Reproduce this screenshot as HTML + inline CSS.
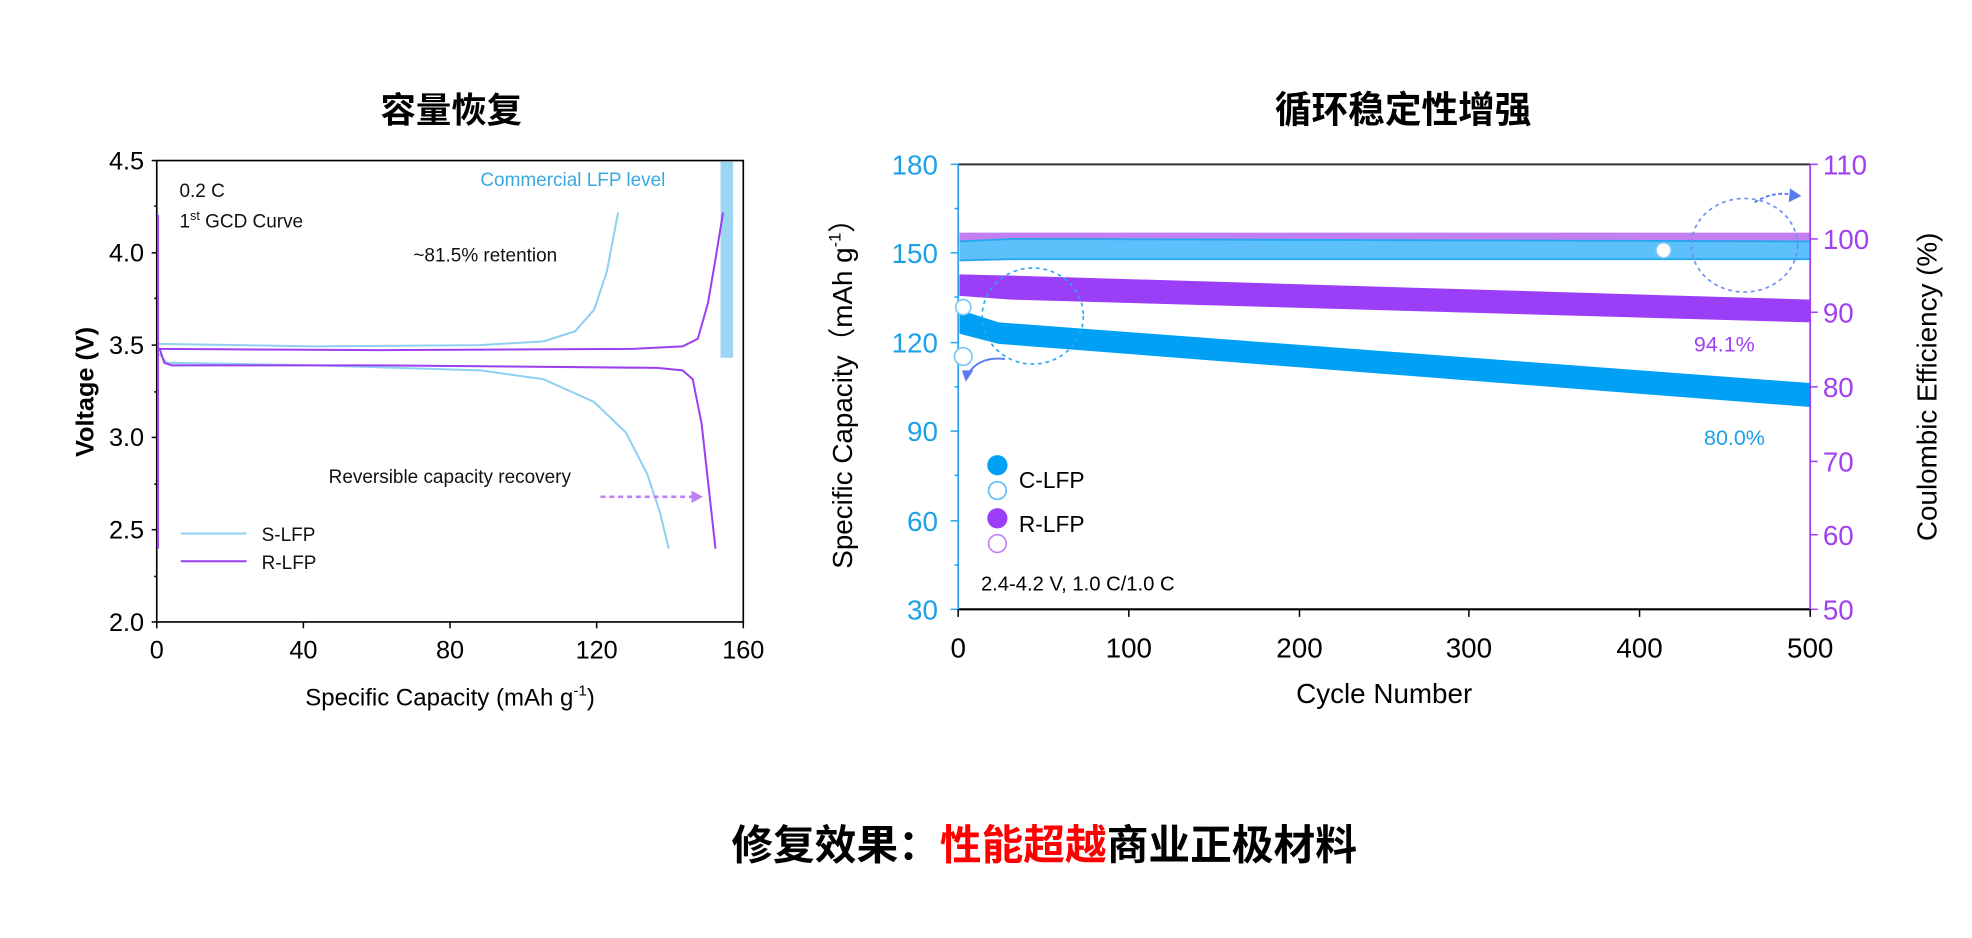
<!DOCTYPE html>
<html><head><meta charset="utf-8"><style>
html,body{margin:0;padding:0;background:#fff;}
svg{display:block;font-family:"Liberation Sans","Noto Sans CJK SC",sans-serif;}
</style></head><body>
<svg width="1972" height="938" viewBox="0 0 1560 742" xmlns="http://www.w3.org/2000/svg">
<rect width="1560" height="742" fill="#fff"/>
<!-- titles -->
<text x="357" y="97" font-size="28" font-weight="bold" text-anchor="middle" font-family="'Noto Sans CJK SC',sans-serif">容量恢复</text>
<text x="1110" y="97" font-size="29" font-weight="bold" text-anchor="middle" font-family="'Noto Sans CJK SC',sans-serif">循环稳定性增强</text>
<text x="826" y="680" font-size="33" font-weight="bold" text-anchor="middle" font-family="'Noto Sans CJK SC',sans-serif">修复效果：<tspan fill="#ff0000">性能超越</tspan>商业正极材料</text>

<!-- LEFT CHART -->
<rect x="570" y="128" width="10" height="155" fill="#9dd6f5"/>
<rect x="124" y="127" width="464" height="365" fill="none" stroke="#000" stroke-width="1.3"/>
<g stroke="#000" stroke-width="1.2">
<line x1="120" y1="127" x2="124" y2="127"/><line x1="120" y1="200" x2="124" y2="200"/><line x1="120" y1="273" x2="124" y2="273"/><line x1="120" y1="346" x2="124" y2="346"/><line x1="120" y1="419" x2="124" y2="419"/><line x1="120" y1="492" x2="124" y2="492"/>
<line x1="122" y1="163" x2="124" y2="163"/><line x1="122" y1="236" x2="124" y2="236"/><line x1="122" y1="310" x2="124" y2="310"/><line x1="122" y1="383" x2="124" y2="383"/><line x1="122" y1="456" x2="124" y2="456"/>
<line x1="124" y1="492" x2="124" y2="497"/><line x1="240" y1="492" x2="240" y2="497"/><line x1="356" y1="492" x2="356" y2="497"/><line x1="472" y1="492" x2="472" y2="497"/><line x1="588" y1="492" x2="588" y2="497"/>
</g>
<g font-size="20" text-anchor="end" fill="#000">
<text x="114" y="134">4.5</text><text x="114" y="207">4.0</text><text x="114" y="280">3.5</text><text x="114" y="353">3.0</text><text x="114" y="426">2.5</text><text x="114" y="499">2.0</text>
</g>
<g font-size="20" text-anchor="middle" fill="#000">
<text x="124" y="521">0</text><text x="240" y="521">40</text><text x="356" y="521">80</text><text x="472" y="521">120</text><text x="588" y="521">160</text>
</g>
<text x="356" y="558" font-size="19" text-anchor="middle">Specific Capacity (mAh g<tspan font-size="12" dy="-8">-1</tspan><tspan dy="8">)</tspan></text>
<text transform="translate(74,310) rotate(-90)" font-size="20" font-weight="bold" text-anchor="middle">Voltage (V)</text>
<!-- curves -->
<path d="M125,272 L250,274 L380,273 L430,270 L455,262 L470,245 L480,215 L489,168" fill="none" stroke="#8fd0f2" stroke-width="1.6"/>
<path d="M126,280 L132,287 L250,289 L380,293 L430,300 L470,318 L495,342 L512,375 L522,405 L529,434" fill="none" stroke="#8fd0f2" stroke-width="1.6"/>
<path d="M125,170 L125,434" stroke="#9b40f0" stroke-width="1.6"/>
<path d="M125,276 L300,277 L500,276 L540,274 L552,268 L560,240 L566,205 L572,168" fill="none" stroke="#9b40f0" stroke-width="1.6"/>
<path d="M126,275 L130,287 L136,289 L300,289 L520,291 L540,293 L548,300 L555,335 L560,380 L566,434" fill="none" stroke="#9b40f0" stroke-width="1.6"/>
<g font-size="15" fill="#111">
<text x="142" y="156">0.2 C</text>
<text x="142" y="180">1<tspan font-size="10" dy="-6">st</tspan><tspan dy="6"> GCD Curve</tspan></text>
<text x="327" y="207">~81.5% retention</text>
<text x="260" y="382">Reversible capacity recovery</text>
<text x="207" y="428">S-LFP</text>
<text x="207" y="450">R-LFP</text>
</g>
<text x="380" y="147" font-size="15" fill="#3aa8e0">Commercial LFP level</text>
<line x1="475" y1="393" x2="548" y2="393" stroke="#c080f5" stroke-width="2" stroke-dasharray="4,3"/>
<path d="M547,388 L556,393 L547,398 Z" fill="#c080f5"/>
<line x1="143" y1="422" x2="195" y2="422" stroke="#8fd0f2" stroke-width="1.6"/>
<line x1="143" y1="444" x2="195" y2="444" stroke="#9b40f0" stroke-width="1.6"/>

<!-- RIGHT CHART -->
<path d="M759,184 L1432,184 L1432,194 L759,194 Z" fill="#c27ff2"/>
<path d="M759,191 L800,189 L1432,191 L1432,205 L800,205 L759,206 Z" fill="#5cc0fa"/>
<path d="M759,191 L800,189 L1432,191" stroke="#2aa6ef" stroke-width="1.5" fill="none"/>
<path d="M759,206 L800,205 L1432,205" stroke="#2aa6ef" stroke-width="1.5" fill="none"/>
<path d="M759,217 L800,218 L1432,237 L1432,255 L800,237 L759,234 Z" fill="#9b3ef7"/>
<path d="M759,245 L790,255 L1432,303 L1432,322 L790,272 L759,264 Z" fill="#00a0f5"/>
<line x1="758" y1="130" x2="1432" y2="130" stroke="#333" stroke-width="1.6"/>
<line x1="758" y1="482" x2="1432" y2="482" stroke="#000" stroke-width="1.6"/>
<line x1="758" y1="130" x2="758" y2="482" stroke="#2aa6ef" stroke-width="1.4"/>
<line x1="1432" y1="130" x2="1432" y2="482" stroke="#a040f0" stroke-width="1.4"/>
<g stroke="#2aa6ef" stroke-width="1.2">
<line x1="752" y1="130" x2="758" y2="130"/><line x1="752" y1="200" x2="758" y2="200"/><line x1="752" y1="271" x2="758" y2="271"/><line x1="752" y1="341" x2="758" y2="341"/><line x1="752" y1="412" x2="758" y2="412"/><line x1="752" y1="482" x2="758" y2="482"/>
<line x1="755" y1="165" x2="758" y2="165"/><line x1="755" y1="235" x2="758" y2="235"/><line x1="755" y1="306" x2="758" y2="306"/><line x1="755" y1="376" x2="758" y2="376"/><line x1="755" y1="447" x2="758" y2="447"/>
</g>
<g stroke="#a040f0" stroke-width="1.2">
<line x1="1432" y1="130" x2="1438" y2="130"/><line x1="1432" y1="189" x2="1438" y2="189"/><line x1="1432" y1="247" x2="1438" y2="247"/><line x1="1432" y1="306" x2="1438" y2="306"/><line x1="1432" y1="365" x2="1438" y2="365"/><line x1="1432" y1="423" x2="1438" y2="423"/><line x1="1432" y1="482" x2="1438" y2="482"/>
</g>
<g stroke="#000" stroke-width="1.2">
<line x1="758" y1="482" x2="758" y2="488"/><line x1="893" y1="482" x2="893" y2="488"/><line x1="1028" y1="482" x2="1028" y2="488"/><line x1="1162" y1="482" x2="1162" y2="488"/><line x1="1297" y1="482" x2="1297" y2="488"/><line x1="1432" y1="482" x2="1432" y2="488"/>
</g>
<g font-size="22" text-anchor="end" fill="#1ea0e6">
<text x="742" y="138">180</text><text x="742" y="208">150</text><text x="742" y="279">120</text><text x="742" y="349">90</text><text x="742" y="420">60</text><text x="742" y="490">30</text>
</g>
<g font-size="22" fill="#a040f0">
<text x="1442" y="138">110</text><text x="1442" y="197">100</text><text x="1442" y="255">90</text><text x="1442" y="314">80</text><text x="1442" y="373">70</text><text x="1442" y="431">60</text><text x="1442" y="490">50</text>
</g>
<g font-size="22" text-anchor="middle" fill="#000">
<text x="758" y="520">0</text><text x="893" y="520">100</text><text x="1028" y="520">200</text><text x="1162" y="520">300</text><text x="1297" y="520">400</text><text x="1432" y="520">500</text>
</g>
<text x="1095" y="556" font-size="22" text-anchor="middle">Cycle Number</text>
<text transform="translate(674,306) rotate(-90)" font-size="22" text-anchor="middle">Specific Capacity（mAh g<tspan font-size="13" dy="-9">-1</tspan><tspan dy="9">）</tspan></text>
<text transform="translate(1532,306) rotate(-90)" font-size="22" text-anchor="middle">Coulombic Efficiency (%)</text>
<circle cx="762" cy="243" r="6" fill="#fff" stroke="#7cc8f5" stroke-width="1.3"/>
<circle cx="762" cy="282" r="7" fill="#fff" stroke="#7cc8f5" stroke-width="1.3"/>
<circle cx="1316" cy="198" r="6" fill="#fff" stroke="#7cc8f5" stroke-width="1.3"/>
<ellipse cx="817" cy="250" rx="40" ry="38" fill="none" stroke="#2aa6ef" stroke-width="1.3" stroke-dasharray="3,3"/>
<ellipse cx="1380" cy="194" rx="42" ry="37" fill="none" stroke="#6a8ef0" stroke-width="1.3" stroke-dasharray="3,3"/>
<path d="M795,284 C780,282 770,288 766,296" fill="none" stroke="#5a7af0" stroke-width="1.5"/>
<path d="M761,293 L770,293 L764,302 Z" fill="#5a7af0"/>
<path d="M1388,160 C1398,154 1408,152 1418,154" fill="none" stroke="#5a7af0" stroke-width="1.5" stroke-dasharray="3,2"/>
<path d="M1416,149 L1425,155 L1415,160 Z" fill="#5a7af0"/>
<text x="1340" y="278" font-size="17" fill="#a040f0">94.1%</text>
<text x="1348" y="352" font-size="17" fill="#1ea0e6">80.0%</text>
<circle cx="789" cy="368" r="8" fill="#00a0f5"/>
<circle cx="789" cy="388" r="7" fill="#fff" stroke="#5cc0fa" stroke-width="1.3"/>
<circle cx="789" cy="410" r="8" fill="#9b3ef7"/>
<circle cx="789" cy="430" r="7" fill="#fff" stroke="#c27ff2" stroke-width="1.3"/>
<text x="806" y="386" font-size="18">C-LFP</text>
<text x="806" y="421" font-size="18">R-LFP</text>
<text x="776" y="467" font-size="16">2.4-4.2 V, 1.0 C/1.0 C</text>
</svg>
</body></html>
